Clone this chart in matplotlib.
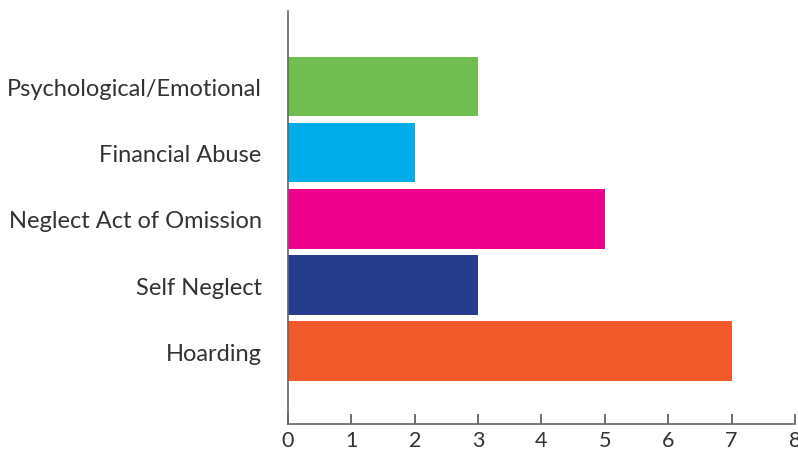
import matplotlib
matplotlib.use("Agg")
import matplotlib.pyplot as plt

# categories listed bottom to top
categories = ["Hoarding", "Self Neglect", "Neglect Act of Omission",
              "Financial Abuse", "Psychological/Emotional"]
counts = [7, 3, 5, 2, 3]
colors = ["#F15A2B", "#283C8D", "#EC008C", "#00ADE8", "#6FBE4F"]
xticks = [0, 1, 2, 3, 4, 5, 6, 7, 8]

plt.rcParams["font.family"] = ["Lato", "DejaVu Sans"]

fig = plt.figure(figsize=(7.98, 4.52), dpi=100)
ax = fig.add_axes([0.3609, 0.0597, 0.6353, 0.9138])

ax.barh(range(len(categories)), counts, height=0.9, color=colors)

ax.set_xlim(0, 8)
ax.set_ylim(-1.1, 5.14)
ax.set_xticks(xticks)
ax.set_yticks(range(len(categories)))
ax.set_yticklabels(categories)

for side in ["top", "right"]:
    ax.spines[side].set_visible(False)
for side in ["left", "bottom"]:
    ax.spines[side].set_color("#666666")
    ax.spines[side].set_linewidth(1.2)

ax.tick_params(axis="x", direction="in", length=7, width=1.2, color="#555555",
               labelsize=15.5, labelcolor="#333333", pad=4)
ax.tick_params(axis="y", length=0, labelsize=17, labelcolor="#333333", pad=19)

fig.savefig("out.png", dpi=100)
